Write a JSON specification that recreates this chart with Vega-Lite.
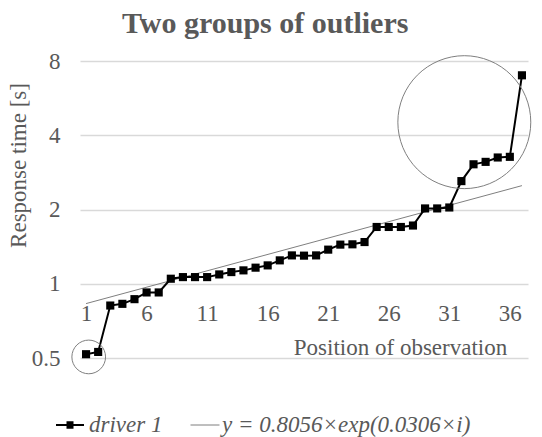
{
  "$schema": "https://vega.github.io/schema/vega-lite/v6.json",
  "width": 448,
  "height": 297,
  "autosize": {"type": "none"},
  "padding": {"left": 80, "top": 61, "right": 14, "bottom": 79},
  "background": "white",
  "config": {"view": {"stroke": null}, "font": "Liberation Serif"},
  "title": {
    "text": "Two groups of outliers",
    "font": "Liberation Serif",
    "fontSize": 30,
    "fontWeight": "bold",
    "color": "#595959",
    "anchor": "start",
    "frame": "group",
    "dx": 42,
    "baseline": "alphabetic",
    "offset": -13
  },
  "datasets": {
    "obs": [
      {"i": 1, "v": 0.518, "s": "driver 1"},
      {"i": 2, "v": 0.529, "s": "driver 1"},
      {"i": 3, "v": 0.816, "s": "driver 1"},
      {"i": 4, "v": 0.829, "s": "driver 1"},
      {"i": 5, "v": 0.866, "s": "driver 1"},
      {"i": 6, "v": 0.922, "s": "driver 1"},
      {"i": 7, "v": 0.922, "s": "driver 1"},
      {"i": 8, "v": 1.048, "s": "driver 1"},
      {"i": 9, "v": 1.064, "s": "driver 1"},
      {"i": 10, "v": 1.064, "s": "driver 1"},
      {"i": 11, "v": 1.064, "s": "driver 1"},
      {"i": 12, "v": 1.091, "s": "driver 1"},
      {"i": 13, "v": 1.115, "s": "driver 1"},
      {"i": 14, "v": 1.133, "s": "driver 1"},
      {"i": 15, "v": 1.162, "s": "driver 1"},
      {"i": 16, "v": 1.187, "s": "driver 1"},
      {"i": 17, "v": 1.244, "s": "driver 1"},
      {"i": 18, "v": 1.303, "s": "driver 1"},
      {"i": 19, "v": 1.300, "s": "driver 1"},
      {"i": 20, "v": 1.303, "s": "driver 1"},
      {"i": 21, "v": 1.375, "s": "driver 1"},
      {"i": 22, "v": 1.441, "s": "driver 1"},
      {"i": 23, "v": 1.445, "s": "driver 1"},
      {"i": 24, "v": 1.476, "s": "driver 1"},
      {"i": 25, "v": 1.699, "s": "driver 1"},
      {"i": 26, "v": 1.699, "s": "driver 1"},
      {"i": 27, "v": 1.699, "s": "driver 1"},
      {"i": 28, "v": 1.722, "s": "driver 1"},
      {"i": 29, "v": 2.02, "s": "driver 1"},
      {"i": 30, "v": 2.02, "s": "driver 1"},
      {"i": 31, "v": 2.038, "s": "driver 1"},
      {"i": 32, "v": 2.607, "s": "driver 1"},
      {"i": 33, "v": 3.05, "s": "driver 1"},
      {"i": 34, "v": 3.12, "s": "driver 1"},
      {"i": 35, "v": 3.25, "s": "driver 1"},
      {"i": 36, "v": 3.27, "s": "driver 1"},
      {"i": 37, "v": 7.0, "s": "driver 1"}
    ],
    "trend": [
      {"i": 1, "v": 0.831, "t": "y = 0.8056×exp(0.0306×i)"},
      {"i": 37, "v": 2.499, "t": "y = 0.8056×exp(0.0306×i)"}
    ],
    "big": [{"i": 32.24, "v": 4.52}],
    "small": [{"i": 1.22, "v": 0.505}]
  },
  "encoding": {
    "x": {
      "field": "i",
      "type": "quantitative",
      "scale": {"domain": [0.5, 37.5], "nice": false, "zero": false},
      "axis": {
        "values": [1, 6, 11, 16, 21, 26, 31, 36],
        "format": "d",
        "grid": false,
        "domain": false,
        "ticks": false,
        "offset": -73.7,
        "labelFont": "Liberation Serif",
        "labelFontSize": 23,
        "labelColor": "#595959",
        "labelBaseline": "middle",
        "labelPadding": 29,
        "labelFlush": false,
        "labelOverlap": false,
        "title": "Position of observation",
        "titleFont": "Liberation Serif",
        "titleFontSize": 23,
        "titleFontWeight": "normal",
        "titleColor": "#595959",
        "titleX": 320,
        "titleY": 63,
        "titleAlign": "center",
        "titleBaseline": "middle"
      }
    },
    "y": {
      "field": "v",
      "type": "quantitative",
      "scale": {"type": "log", "base": 2, "domain": [0.5, 8], "nice": false, "zero": false},
      "axis": {
        "values": [0.5, 1, 2, 4, 8],
        "format": "~g",
        "grid": true,
        "gridColor": "#d9d9d9",
        "gridWidth": 1.3,
        "domain": false,
        "ticks": false,
        "labelFont": "Liberation Serif",
        "labelFontSize": 23,
        "labelColor": "#595959",
        "labelPadding": 20,
        "title": "Response time [s]",
        "titleFont": "Liberation Serif",
        "titleFontSize": 23,
        "titleFontWeight": "normal",
        "titleColor": "#595959",
        "titleX": -62,
        "titleY": 104,
        "titleAngle": 270,
        "titleAlign": "center",
        "titleBaseline": "middle"
      }
    }
  },
  "layer": [
    {
      "data": {"name": "trend"},
      "mark": {"type": "line", "strokeWidth": 1},
      "encoding": {
        "color": {
          "field": "t",
          "type": "nominal",
          "scale": {"range": ["#7f7f7f"]},
          "legend": {
            "title": null,
            "orient": "none",
            "legendX": 110,
            "legendY": 349,
            "padding": 0,
            "symbolSize": 840,
            "symbolStrokeWidth": 1,
            "labelFont": "Liberation Serif",
            "labelFontSize": 23,
            "labelFontStyle": "italic",
            "labelColor": "#595959",
            "labelOffset": 2,
            "labelLimit": 400
          }
        }
      }
    },
    {
      "data": {"name": "obs"},
      "mark": {"type": "line", "strokeWidth": 2},
      "encoding": {
        "color": {
          "field": "s",
          "type": "nominal",
          "scale": {"range": ["#000000"]},
          "legend": {
            "title": null,
            "orient": "none",
            "legendX": -25,
            "legendY": 349,
            "padding": 0,
            "symbolSize": 784,
            "symbolType": "M-1,0H1M-0.25,-0.2H0.25M-0.25,-0.1H0.25M-0.25,0H0.25M-0.25,0.1H0.25M-0.25,0.2H0.25",
            "symbolStrokeWidth": 2,
            "labelFont": "Liberation Serif",
            "labelFontSize": 23,
            "labelFontStyle": "italic",
            "labelColor": "#595959",
            "labelOffset": 4,
            "labelLimit": 400
          }
        }
      }
    },
    {
      "data": {"name": "obs"},
      "mark": {"type": "point", "shape": "square", "filled": true, "size": 66, "opacity": 1, "color": "#000000"}
    },
    {
      "data": {"name": "big"},
      "mark": {"type": "point", "shape": "circle", "filled": false, "size": 17671, "stroke": "#7f7f7f", "strokeWidth": 1, "opacity": 1}
    },
    {
      "data": {"name": "small"},
      "mark": {"type": "point", "shape": "circle", "filled": false, "size": 1134, "stroke": "#7f7f7f", "strokeWidth": 1, "opacity": 1}
    }
  ],
  "resolve": {"scale": {"color": "independent"}, "legend": {"color": "independent"}}
}
